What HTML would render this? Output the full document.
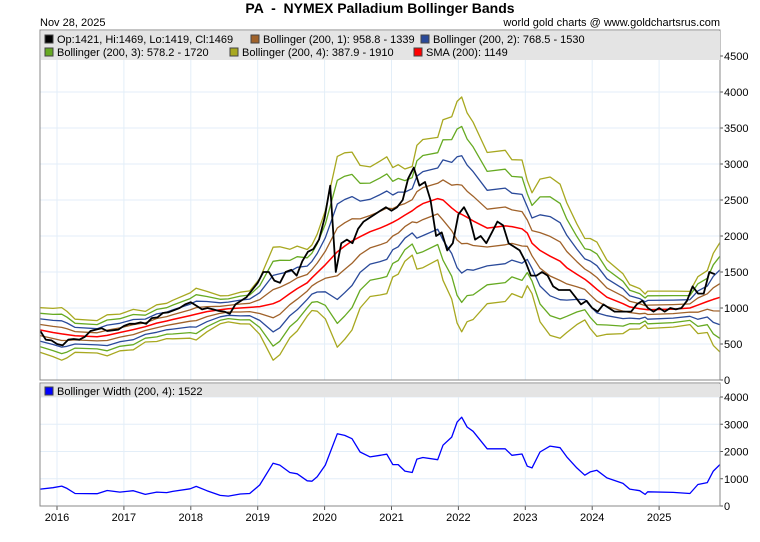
<!DOCTYPE html>
<html><head><meta charset="utf-8"><style>
body{margin:0;background:#fff;font-family:"Liberation Sans",Arial,sans-serif;}
svg{display:block}
text{font-family:"Liberation Sans",Arial,sans-serif;}
</style></head><body>
<svg id="chart" width="760" height="542" viewBox="0 0 760 542">
<rect width="760" height="542" fill="#fff"/>
<text x="380" y="13" text-anchor="middle" font-size="14" font-weight="bold" xml:space="preserve">PA  -  NYMEX Palladium Bollinger Bands</text>
<text x="40" y="26" font-size="11">Nov 28, 2025</text>
<text x="720" y="26" text-anchor="end" font-size="11">world gold charts @ www.goldchartsrus.com</text>
<g id="grid"></g>
<g id="series"></g>
<g id="axes"></g>
<g font-size="11">
<rect x="41" y="31" width="679" height="29" fill="#e4e4e4"/>
<rect x="45" y="35" width="8" height="8" fill="#000" stroke="#444"/><text x="57" y="43">Op:1421, Hi:1469, Lo:1419, Cl:1469</text>
<rect x="251" y="35" width="8" height="8" fill="#a0622a" stroke="#444"/><text x="263" y="43">Bollinger (200, 1): 958.8 - 1339</text>
<rect x="421" y="35" width="8" height="8" fill="#2a4a9a" stroke="#444"/><text x="433" y="43">Bollinger (200, 2): 768.5 - 1530</text>
<rect x="45" y="48" width="8" height="8" fill="#66aa22" stroke="#444"/><text x="57" y="56">Bollinger (200, 3): 578.2 - 1720</text>
<rect x="230" y="48" width="8" height="8" fill="#a8a820" stroke="#444"/><text x="242" y="56">Bollinger (200, 4): 387.9 - 1910</text>
<rect x="414" y="48" width="8" height="8" fill="#ff0000" stroke="#444"/><text x="426" y="56">SMA (200): 1149</text>
</g>
<g font-size="11">
<rect x="41" y="384" width="679" height="13" fill="#e4e4e4"/>
<rect x="45" y="387" width="8" height="8" fill="#0000ff" stroke="#444"/><text x="57" y="395">Bollinger Width (200, 4): 1522</text>
</g>
</svg>
<script>
const years=[2016,2017,2018,2019,2020,2021,2022,2023,2024,2025];
const mainTicks=[0,500,1000,1500,2000,2500,3000,3500,4000,4500];
const widthTicks=[0,1000,2000,3000,4000];
const priceStart=2015.75;
const priceClose=[680,560,550,
500,480,560,570,560,600,680,700,720,680,690,700,
750,780,780,800,780,860,870,930,940,970,1000,1050,
1080,1030,980,1000,980,960,950,920,1050,1100,1150,1250,
1350,1500,1500,1380,1350,1500,1530,1450,1650,1780,1820,1950,
2250,2700,1500,1900,1950,1900,2100,2200,2250,2300,2350,2400,
2350,2400,2500,2800,2950,2700,2750,2500,2000,2050,1800,1900,
2300,2400,2250,1950,2000,1900,2050,2200,2150,1900,1850,1800,
1650,1450,1450,1500,1450,1300,1250,1250,1250,1150,1050,1100,
1000,950,1050,1000,950,950,950,950,1050,1100,1000,950,
1000,950,1000,980,1000,1100,1300,1200,1200,1500,1469];
const bandTimes=[2015.75,2015.94,2016.07,2016.15,2016.27,2016.60,2016.75,2016.94,2017.14,2017.32,2017.49,2017.64,2017.73,2017.99,2018.08,2018.24,2018.44,2018.56,2018.74,2018.88,2019.03,2019.23,2019.33,2019.48,2019.59,2019.74,2019.81,2019.89,2020.01,2020.19,2020.30,2020.41,2020.53,2020.68,2020.83,2020.93,2021.02,2021.10,2021.20,2021.31,2021.38,2021.47,2021.69,2021.77,2021.90,2021.98,2022.05,2022.13,2022.22,2022.43,2022.70,2022.80,2022.95,2023.03,2023.10,2023.22,2023.37,2023.52,2023.62,2023.77,2023.89,2023.97,2024.07,2024.22,2024.46,2024.56,2024.71,2024.79,2024.83,2025.21,2025.46,2025.58,2025.72,2025.81,2025.91];
const widthValues=[620,670,730,645,460,450,570,510,560,425,510,490,535,630,720,560,390,365,440,460,770,1570,1500,1230,1180,925,910,1070,1500,2650,2590,2470,1980,1800,1860,1900,1520,1520,1280,1230,1720,1780,1700,2230,2530,3080,3260,2900,2740,2100,2100,1860,1910,1460,1400,1980,2200,2140,1800,1400,1130,1250,1310,1030,830,620,560,425,520,500,460,790,860,1280,1522];
const smaValues=[694,660,640,630,615,600,620,660,700,740,790,820,840,895,915,950,975,990,1000,1008,1020,1060,1100,1200,1270,1350,1420,1490,1600,1780,1860,1930,1990,2060,2110,2150,2190,2230,2290,2350,2400,2450,2520,2500,2390,2330,2300,2260,2210,2110,2140,2130,2100,2040,1900,1800,1720,1650,1560,1470,1400,1340,1260,1150,1060,1015,990,980,975,985,1000,1040,1090,1120,1149];

const X0=40,X1=720;
const xs=t=>57+(t-2016)*66.9;
const ym=v=>380-v*0.072;
const yw=v=>506-v*0.02725;
const NS='http://www.w3.org/2000/svg';
function mk(tag,parent,attrs){const e=document.createElementNS(NS,tag);for(const k in attrs)e.setAttribute(k,attrs[k]);parent.appendChild(e);return e;}
const grid=document.getElementById('grid'),series=document.getElementById('series'),axes=document.getElementById('axes');
mainTicks.forEach(v=>{const l=mk('line',grid,{x1:X0,x2:X1,y1:ym(v),y2:ym(v),stroke:'#e3eef8'});


const t=mk('text',axes,{x:724,y:ym(v)+4,'font-size':11});t.textContent=v;


mk('line',axes,{x1:X1,x2:X1+3,y1:ym(v),y2:ym(v),stroke:'#555'});});
widthTicks.forEach(v=>{const l=mk('line',grid,{x1:X0,x2:X1,y1:yw(v),y2:yw(v),stroke:'#e3eef8'});


const t=mk('text',axes,{x:724,y:yw(v)+4,'font-size':11});t.textContent=v;


mk('line',axes,{x1:X1,x2:X1+3,y1:yw(v),y2:yw(v),stroke:'#555'});});
years.forEach(y=>{const x=xs(y);
mk('line',grid,{x1:x,x2:x,y1:60,y2:380,stroke:'#e3eef8'});
mk('line',grid,{x1:x,x2:x,y1:397,y2:506,stroke:'#e3eef8'});
mk('line',axes,{x1:x,x2:x,y1:506,y2:510,stroke:'#555'});
const t=mk('text',axes,{x:x,y:521,'text-anchor':'middle','font-size':11});t.textContent=y;

});
const bandCols=[['#a0622a',1],['#2a4a9a',2],['#66aa22',3],['#a8a820',4]];
function pl(pts,col,w,name){const p=mk('polyline',series,{points:pts.map(a=>a[0].toFixed(1)+','+a[1].toFixed(1)).join(' '),fill:'none',stroke:col,'stroke-width':w,'stroke-linejoin':'round'});

return p;}
bandCols.forEach(([c,k])=>{
pl(bandTimes.map((t,i)=>[xs(t),ym(smaValues[i]+k*widthValues[i]/8)]),c,1.3,'upper-band-'+k);
pl(bandTimes.map((t,i)=>[xs(t),ym(Math.max(0,smaValues[i]-k*widthValues[i]/8))]),c,1.3,'lower-band-'+k);});
pl(bandTimes.map((t,i)=>[xs(t),ym(smaValues[i])]),'#ff0000',1.5,'sma-line');
pl(priceClose.map((v,i)=>[Math.min(X1,xs(priceStart+i/12)),ym(v)]),'#000',1.8,'price-line');
pl(bandTimes.map((t,i)=>[xs(t),yw(widthValues[i])]),'#0000ff',1.3,'width-line');
mk('rect',axes,{x:X0,y:30,width:X1-X0,height:350,fill:'none',stroke:'#888'});
mk('rect',axes,{x:X0,y:383,width:X1-X0,height:123,fill:'none',stroke:'#888'});
</script>
</body></html>
